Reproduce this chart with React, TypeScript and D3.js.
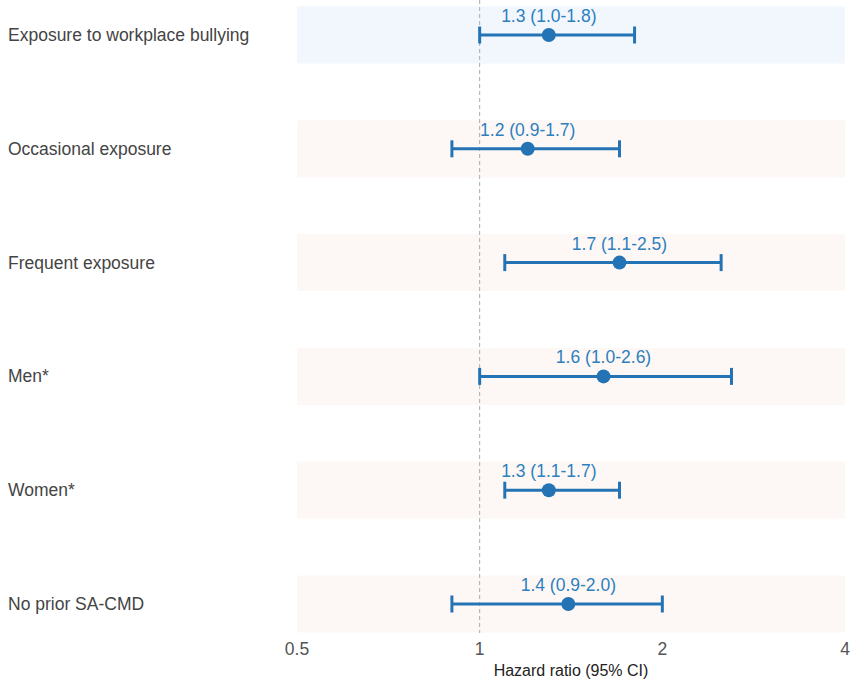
import React from "react";
import * as d3 from "d3";

const labels = [
  "Exposure to workplace bullying",
  "Occasional exposure",
  "Frequent exposure",
  "Men*",
  "Women*",
  "No prior SA-CMD",
];
const estimates = [1.3, 1.2, 1.7, 1.6, 1.3, 1.4];
const lower = [1.0, 0.9, 1.1, 1.0, 1.1, 0.9];
const upper = [1.8, 1.7, 2.5, 2.6, 1.7, 2.0];
const xTicks = [0.5, 1, 2, 4];

const W = 851;
const H = 681;
const FONT = "'Liberation Sans', Arial, sans-serif";

export default function App() {
  const x = d3.scaleLog().base(2).domain([0.5, 4]).range([297, 845]);
  const y = d3.scalePoint<string>().domain(labels).range([35, 604]);
  const bandH = 57;
  const blue = "#2474b5";
  const fmt = (v: number) => v.toFixed(1);

  return (
    <svg
      width={W}
      height={H}
      style={{ position: "absolute", left: 0, top: 0, fontFamily: FONT }}
    >
      {labels.map((l, i) => (
        <rect
          key={"b" + l}
          x={x(0.5)}
          y={(y(l) as number) - bandH / 2}
          width={x(4) - x(0.5)}
          height={bandH}
          fill={i === 0 ? "#f1f7fd" : "#fdf8f5"}
        />
      ))}
      <line
        x1={x(1)}
        x2={x(1)}
        y1={0}
        y2={633}
        stroke="#aaaaaa"
        strokeWidth={1}
        strokeDasharray="4,3"
      />
      {labels.map((l, i) => {
        const cy = y(l) as number;
        return (
          <g key={"m" + l}>
            <line x1={x(lower[i])} x2={x(upper[i])} y1={cy} y2={cy} stroke={blue} strokeWidth={3} />
            <line x1={x(lower[i])} x2={x(lower[i])} y1={cy - 8.5} y2={cy + 8.5} stroke={blue} strokeWidth={3} />
            <line x1={x(upper[i])} x2={x(upper[i])} y1={cy - 8.5} y2={cy + 8.5} stroke={blue} strokeWidth={3} />
            <circle cx={x(estimates[i])} cy={cy} r={7} fill={blue} />
            <text
              x={x(estimates[i])}
              y={cy - 13}
              textAnchor="middle"
              fontSize={17.5}
              fill="#2e7fbf"
            >
              {`${fmt(estimates[i])} (${fmt(lower[i])}-${fmt(upper[i])})`}
            </text>
            <text x={8} y={cy + 6} fontSize={17.5} fill="#444444">
              {l}
            </text>
          </g>
        );
      })}
      {xTicks.map((t) => (
        <text
          key={"t" + t}
          x={x(t)}
          y={655}
          textAnchor="middle"
          fontSize={17.5}
          fill="#555555"
        >
          {t}
        </text>
      ))}
      <text x={(x(0.5) + x(4)) / 2} y={676} textAnchor="middle" fontSize={16} fill="#222222">
        Hazard ratio (95% CI)
      </text>
    </svg>
  );
}
